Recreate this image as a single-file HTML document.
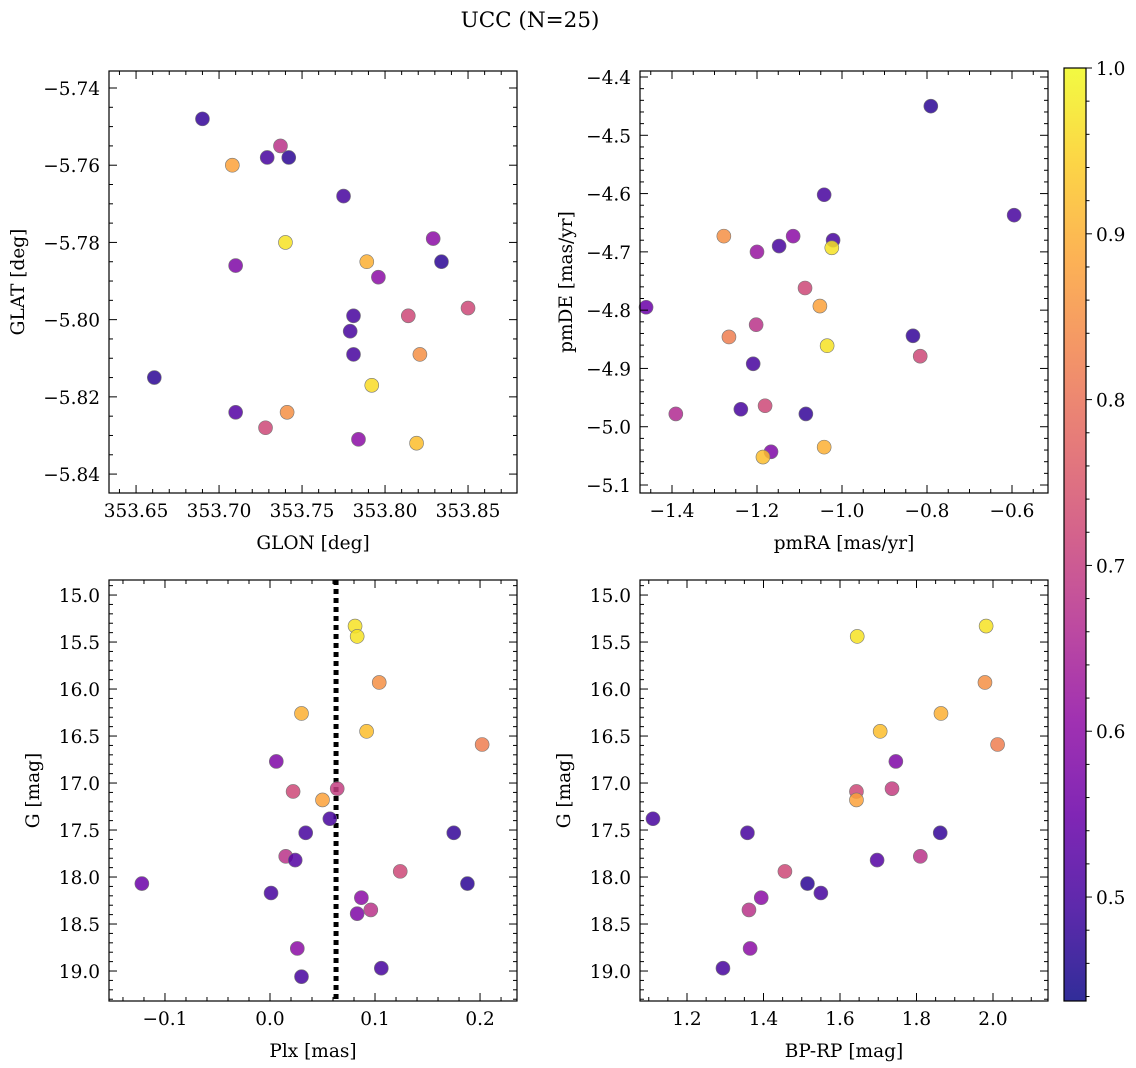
<!DOCTYPE html>
<html><head><meta charset="utf-8">
<style>
html,body{margin:0;padding:0;background:#fff;}
svg{display:block;font-family:"DejaVu Serif","Liberation Serif",serif;}
</style></head>
<body>
<svg id="fig" width="1136" height="1068" xmlns="http://www.w3.org/2000/svg">
<text x="530" y="27" font-size="21.5" text-anchor="middle">UCC (N=25)</text>
</svg>
<script>
// Panel 1: GLON vs GLAT
const glon = [353.690,353.708,353.729,353.737,353.742,353.775,353.740,353.710,353.789,353.796,353.829,353.834,353.850,353.814,353.781,353.779,353.781,353.821,353.661,353.792,353.710,353.741,353.728,353.784,353.819];
const glat = [-5.748,-5.760,-5.758,-5.755,-5.758,-5.768,-5.780,-5.786,-5.785,-5.789,-5.779,-5.785,-5.797,-5.799,-5.799,-5.803,-5.809,-5.809,-5.815,-5.817,-5.824,-5.824,-5.828,-5.831,-5.832];
const prob1 = [0.48,0.88,0.5,0.68,0.47,0.5,0.97,0.58,0.9,0.6,0.6,0.47,0.72,0.72,0.5,0.5,0.5,0.85,0.47,0.96,0.52,0.85,0.72,0.6,0.92];
// Panel 2: pmRA vs pmDE
const pmra = [-0.791,-1.042,-0.595,-1.278,-1.115,-1.021,-1.148,-1.200,-1.024,-1.461,-1.087,-1.052,-1.202,-1.266,-0.833,-1.035,-0.816,-1.209,-1.181,-1.238,-1.391,-1.085,-1.042,-1.167,-1.186];
const pmde = [-4.450,-4.602,-4.637,-4.673,-4.673,-4.680,-4.690,-4.700,-4.693,-4.795,-4.762,-4.793,-4.825,-4.846,-4.844,-4.861,-4.879,-4.892,-4.964,-4.970,-4.978,-4.978,-5.035,-5.043,-5.052];
const prob2 = [0.47,0.5,0.5,0.85,0.6,0.5,0.5,0.62,0.97,0.55,0.72,0.88,0.68,0.82,0.48,0.97,0.72,0.5,0.72,0.5,0.66,0.48,0.9,0.58,0.92];
// Panel 3 & 4: Plx, BP-RP vs G
const gmag = [15.33,15.44,15.93,16.26,16.45,16.59,16.77,17.09,17.06,17.18,17.38,17.53,17.53,17.78,17.82,17.94,18.07,18.07,18.17,18.22,18.35,18.39,18.76,18.97,19.06];
const plx = [0.081,0.083,0.104,0.030,0.092,0.202,0.006,0.022,0.064,0.050,0.057,0.034,0.175,0.015,0.024,0.124,-0.122,0.188,0.001,0.087,0.096,0.083,0.026,0.106,0.030];
const prob3 = [0.97,0.97,0.85,0.9,0.92,0.82,0.58,0.72,0.7,0.88,0.5,0.5,0.48,0.68,0.52,0.72,0.55,0.47,0.5,0.6,0.68,0.58,0.6,0.5,0.5];
const gmag4 = [15.33,15.44,15.93,16.26,16.45,16.59,16.77,17.09,17.06,17.18,17.38,17.53,17.53,17.78,17.82,17.94,18.07,18.17,18.22,18.35,18.76,18.97];
const bprp = [1.982,1.645,1.979,1.864,1.705,2.012,1.746,1.643,1.736,1.643,1.111,1.358,1.862,1.810,1.697,1.456,1.515,1.550,1.394,1.362,1.365,1.294];
const prob4 = [0.97,0.97,0.85,0.9,0.92,0.82,0.58,0.72,0.7,0.88,0.5,0.5,0.48,0.68,0.52,0.72,0.47,0.5,0.6,0.68,0.6,0.5];
const plxMedian = 0.0629;
const cbTicks = [0.5,0.6,0.7,0.8,0.9,1.0];

const NS="http://www.w3.org/2000/svg";
const svg=document.getElementById('fig');
function mk(tag,attrs,parent){const e=document.createElementNS(NS,tag);for(const k in attrs)e.setAttribute(k,attrs[k]);(parent||svg).appendChild(e);return e;}
const plasma=[[13,8,135],[65,4,157],[106,0,168],[143,13,164],[177,42,144],[204,71,120],[225,100,98],[242,132,75],[252,166,54],[252,206,37],[240,249,33]];
const vmin=0.4373,vmax=1.0;
const FS=18.5;
function cmap(v){let t=(v-vmin)/(vmax-vmin);t=Math.max(0,Math.min(1,t));const f=t*10,i=Math.min(9,Math.floor(f)),r=f-i;const a=plasma[i],b=plasma[i+1];return 'rgb('+[0,1,2].map(k=>Math.round(a[k]+(b[k]-a[k])*r)).join(',')+')';}

function panel(o){
  const g=mk('g',{});
  
  
  const sx=v=>o.x0+(v-o.xmin)/(o.xmax-o.xmin)*(o.x1-o.x0);
  const sy=o.invert?(v=>o.y0+(v-o.ymin)/(o.ymax-o.ymin)*(o.y1-o.y0)):(v=>o.y1-(v-o.ymin)/(o.ymax-o.ymin)*(o.y1-o.y0));
  if(o.vline!==undefined){const l=mk('line',{x1:sx(o.vline),x2:sx(o.vline),y1:o.y0,y2:o.y1,stroke:'#000','stroke-width':5,'stroke-dasharray':'5,4'},g);
    
    }
  const pts=mk('g',{},g);
  
  
  for(let i=0;i<o.xs.length;i++){
    const c=mk('circle',{cx:sx(o.xs[i]),cy:sy(o.ys[i]),r:7,fill:cmap(o.c[i]),'fill-opacity':0.85,stroke:'#777','stroke-width':0.6},pts);
    
    
  }
  const fr=mk('rect',{x:o.x0,y:o.y0,width:o.x1-o.x0,height:o.y1-o.y0,fill:'none',stroke:'#000','stroke-width':1.2},g);
  
  
  const eps=1e-9;
  for(let v=Math.ceil(o.xmin/o.xminor-eps)*o.xminor;v<=o.xmax+eps;v+=o.xminor){const X=sx(v);
    const major=Math.abs(v/o.xmajor-Math.round(v/o.xmajor))<1e-6;const L=major?8:4;
    mk('line',{x1:X,x2:X,y1:o.y1,y2:o.y1-L,stroke:'#000'},g);mk('line',{x1:X,x2:X,y1:o.y0,y2:o.y0+L,stroke:'#000'},g);
    if(major){const t=mk('text',{x:X,y:o.y1+24,'font-size':FS,'text-anchor':'middle'},g);t.textContent=o.xfmt(Math.round(v/o.xmajor)*o.xmajor).replace('-','\u2212');
      
      }}
  for(let v=Math.ceil(o.ymin/o.yminor-eps)*o.yminor;v<=o.ymax+eps;v+=o.yminor){const Y=sy(v);
    const major=Math.abs(v/o.ymajor-Math.round(v/o.ymajor))<1e-6;const L=major?8:4;
    mk('line',{x1:o.x0,x2:o.x0+L,y1:Y,y2:Y,stroke:'#000'},g);mk('line',{x1:o.x1,x2:o.x1-L,y1:Y,y2:Y,stroke:'#000'},g);
    if(major){const t=mk('text',{x:o.x0-9,y:Y+7,'font-size':FS,'text-anchor':'end'},g);t.textContent=o.yfmt(Math.round(v/o.ymajor)*o.ymajor).replace('-','\u2212');
      
      }}
  const xl=mk('text',{x:(o.x0+o.x1)/2,y:o.y1+56,'font-size':FS,'text-anchor':'middle'},g);xl.textContent=o.xlabel;
  
  
  const yx=o.ylx,yy=(o.y0+o.y1)/2;
  const yl=mk('text',{x:yx,y:yy,'font-size':FS,'text-anchor':'middle',transform:'rotate(-90 '+yx+' '+yy+')'},g);yl.textContent=o.ylabel;
  
  
}
const f2=v=>v.toFixed(2),f1=v=>v.toFixed(1);
panel({name:'panel-glon-glat',x0:109,x1:517,y0:71,y1:493,xmin:353.6337,xmax:353.8795,ymin:-5.8449,ymax:-5.7356,xmajor:0.05,xminor:0.01,ymajor:0.02,yminor:0.005,xfmt:f2,yfmt:f2,xs:glon,ys:glat,c:prob1,xlabel:'GLON [deg]',ylabel:'GLAT [deg]',ylx:24});
panel({name:'panel-pm',x0:640,x1:1048,y0:71,y1:493,xmin:-1.4753,xmax:-0.5153,ymin:-5.1137,ymax:-4.3897,xmajor:0.2,xminor:0.05,ymajor:0.1,yminor:0.02,xfmt:f1,yfmt:f1,xs:pmra,ys:pmde,c:prob2,xlabel:'pmRA [mas/yr]',ylabel:'pmDE [mas/yr]',ylx:572});
panel({name:'panel-plx-g',x0:109,x1:517,y0:580,y1:1001,xmin:-0.1533,xmax:0.2352,ymin:14.84,ymax:19.319,invert:true,xmajor:0.1,xminor:0.02,ymajor:0.5,yminor:0.1,xfmt:f1,yfmt:f1,xs:plx,ys:gmag,c:prob3,xlabel:'Plx [mas]',ylabel:'G [mag]',ylx:39,vline:plxMedian});
panel({name:'panel-cmd',x0:640,x1:1048,y0:580,y1:1001,xmin:1.0771,xmax:2.1438,ymin:14.84,ymax:19.319,invert:true,xmajor:0.2,xminor:0.05,ymajor:0.5,yminor:0.1,xfmt:f1,yfmt:f1,xs:bprp,ys:gmag4,c:prob4,xlabel:'BP-RP [mag]',ylabel:'G [mag]',ylx:570});

const cb=mk('g',{});


const cbx0=1064,cbx1=1086,cby0=68,cby1=1001;
const defs=mk('defs',{},cb);const lg=mk('linearGradient',{id:'cbg',x1:0,y1:1,x2:0,y2:0},defs);
for(let i=0;i<=20;i++){const v=vmin+(vmax-vmin)*i/20;mk('stop',{offset:i/20,'stop-color':cmap(v),'stop-opacity':0.85},lg);}
mk('rect',{x:cbx0,y:cby0,width:cbx1-cbx0,height:cby1-cby0,fill:'url(#cbg)',stroke:'#000','stroke-width':1.2},cb);
const cy=v=>cby1-(v-vmin)/(vmax-vmin)*(cby1-cby0);
for(let k=Math.ceil(vmin*50);k<=50;k++){const v=k/50,Y=cy(v),major=k%5===0;
  mk('line',{x1:cbx1,x2:cbx1+(major?6:3.5),y1:Y,y2:Y,stroke:'#000'},cb);}
cbTicks.forEach(v=>{const t=mk('text',{x:cbx1+10,y:cy(v)+7,'font-size':FS},cb);t.textContent=v.toFixed(1);
  
  });
</script>
</body></html>
